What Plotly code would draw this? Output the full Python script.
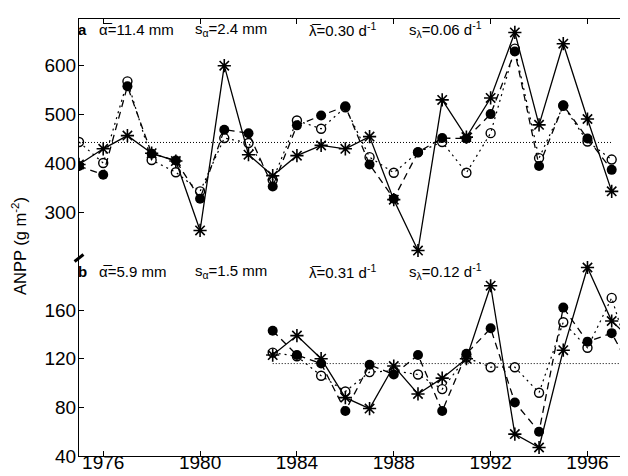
import plotly.graph_objects as go

years_a = list(range(1975, 1998))
a_star = [398, 430, 457, 421, 405, 263, 600, 418, 375, 416, 437, 430, 455, 326, 222, 530, 454, 534, 668, 479, 645, 491, 343]
a_filled = [395, 377, 558, 420, 406, 328, 469, 462, 353, 478, 498, 517, 398, 328, 423, 452, 451, 501, 629, 395, 519, 451, 387]
a_open = [444, 401, 568, 407, 382, 343, 452, 442, 366, 488, 471, 515, 413, 381, 423, 444, 381, 462, 635, 411, 518, 445, 408]
mean_a = 443
mean_a_years = [1975, 1997]

years_b = list(range(1983, 1999))
b_star = [123, 139, 120, 88, 79, 114, 91, 104, 120, 180, 58, 47, 127, 195, 151, 132]
b_filled = [143, 123, 116, 77, 115, 107, 123, 77, 124, 145, 84, 60, 162, 134, 141, 104]
b_open = [125, 122, 106, 93, 109, 110, 107, 95, 121, 113, 113, 92, 150, 129, 170, 106]
mean_b = 116
mean_b_years = [1983, 1998]

x_ticks = [1976, 1980, 1984, 1988, 1992, 1996]
ya_ticks = [300, 400, 500, 600]
yb_ticks = [40, 80, 120, 160]

labels_a = ["<b>a</b>", "\u03b1\u0305=11.4 mm", "s<sub>\u03b1</sub>=2.4 mm", "\u03bb\u0305=0.30 d<sup>-1</sup>", "s<sub>\u03bb</sub>=0.06 d<sup>-1</sup>"]
labels_b = ["<b>b</b>", "\u03b1\u0305=5.9 mm", "s<sub>\u03b1</sub>=1.5 mm", "\u03bb\u0305=0.31 d<sup>-1</sup>", "s<sub>\u03bb</sub>=0.12 d<sup>-1</sup>"]
label_pos = [-0.005, 0.032, 0.2054, 0.4107, 0.5928]

FONT = "Liberation Sans, Arial, sans-serif"
fig = go.Figure()

def add_series(x, ys, xa, ya, mean_years, mean):
    star, filled, opn = ys
    fig.add_trace(go.Scatter(x=mean_years, y=[mean, mean], mode="lines",
                             line=dict(color="black", width=1, dash="1px,2px"),
                             xaxis=xa, yaxis=ya, showlegend=False))
    fig.add_trace(go.Scatter(x=x, y=opn, mode="lines+markers",
                             line=dict(color="black", width=1.2, dash="2px,4px"),
                             marker=dict(symbol="circle-open", size=9, color="black", line=dict(width=1.4)),
                             xaxis=xa, yaxis=ya, showlegend=False))
    fig.add_trace(go.Scatter(x=x, y=filled, mode="lines+markers",
                             line=dict(color="black", width=1.3, dash="7px,5px"),
                             marker=dict(symbol="circle", size=10, color="black"),
                             xaxis=xa, yaxis=ya, showlegend=False))
    fig.add_trace(go.Scatter(x=x, y=star, mode="lines+markers",
                             line=dict(color="black", width=1.3),
                             marker=dict(symbol="asterisk-open", size=11, color="black", line=dict(width=1.6, color="black")),
                             xaxis=xa, yaxis=ya, showlegend=False))

add_series(years_a, (a_star, a_filled, a_open), "x2", "y2", mean_a_years, mean_a)
add_series(years_b, (b_star, b_filled, b_open), "x", "y", mean_b_years, mean_b)

split = (448 - 250) / 437
axis_common = dict(showgrid=False, zeroline=False, linecolor="black", linewidth=1,
                   ticks="inside", ticklen=5, tickcolor="black", tickwidth=1,
                   tickfont=dict(family=FONT, size=19, color="black"))

fig.update_layout(
    width=628, height=476,
    margin=dict(l=71, r=3, t=11, b=28),
    paper_bgcolor="white", plot_bgcolor="white",
    xaxis=dict(range=[1975, 1997.88], domain=[0, 1], anchor="y", tickvals=x_ticks,
               showline=True, mirror=False, ticklabelstandoff=-11, **axis_common),
    yaxis=dict(range=[40, 202.8], domain=[0, split], anchor="x", tickvals=yb_ticks,
               showline=True, mirror="ticks", ticklabelstandoff=-2, **axis_common),
    xaxis2=dict(range=[1975, 1997.88], domain=[0, 1], anchor="y2", tickvals=x_ticks,
                side="top", showticklabels=False, showline=True, mirror=False, **axis_common),
    yaxis2=dict(range=[206.7, 695.5], domain=[split, 1], anchor="x2", tickvals=ya_ticks,
                showline=True, mirror="ticks", ticklabelstandoff=-2, **axis_common),
)

annots = []
for lx, t in zip(label_pos, labels_a):
    annots.append(dict(x=lx, y=675, xref="paper", yref="y2", text=t, showarrow=False,
                       xanchor="left", yanchor="middle", font=dict(family=FONT, size=15, color="black")))
for lx, t in zip(label_pos, labels_b):
    annots.append(dict(x=lx, y=192, xref="paper", yref="y", text=t, showarrow=False,
                       xanchor="left", yanchor="middle", font=dict(family=FONT, size=15, color="black")))
annots.append(dict(x=-0.107, y=0.48, xref="paper", yref="paper", text="ANPP (g m<sup>-2</sup>)",
                   textangle=-90, showarrow=False, xanchor="center", yanchor="middle",
                   font=dict(family=FONT, size=16.5, color="black")))
fig.update_layout(annotations=annots)

# axis break marks
for xp in (0, 1):
    fig.add_shape(type="line", xref="paper", yref="paper",
                  x0=xp - 0.008, y0=split - 0.008, x1=xp + 0.008, y1=split + 0.008,
                  line=dict(color="black", width=3))

fig.write_html("out.html")
